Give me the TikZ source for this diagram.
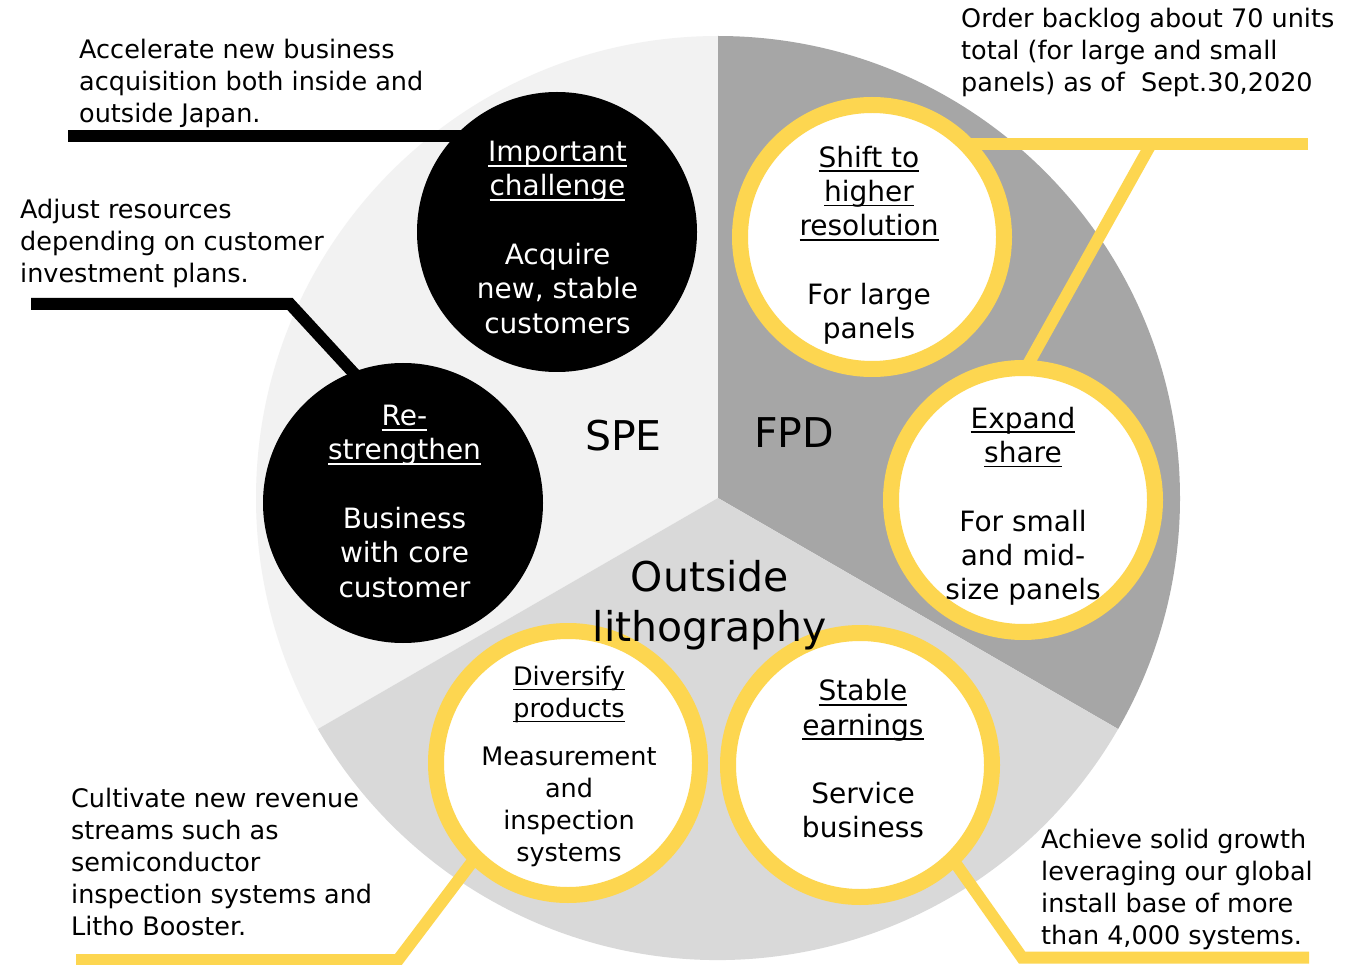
\documentclass[tikz,border=0pt]{standalone}
\usepackage{fontspec}
\setmainfont{DejaVu Sans}
\definecolor{ylw}{RGB}{253,214,80}
\definecolor{speC}{HTML}{F2F2F2}
\definecolor{fpdC}{HTML}{A6A6A6}
\definecolor{outC}{HTML}{D9D9D9}
\pgfdeclarelayer{bg}
\pgfsetlayers{bg,main}
\newcommand\myul[1]{\setbox0\hbox{#1}\rlap{\vrule height -3.2pt depth 5pt width \wd0}\box0}
\begin{document}
\begin{tikzpicture}[x=1pt,y=-1pt,
  blackc/.style={circle, fill=black, minimum size=280pt, inner sep=0pt},
  ringc/.style={circle, fill=white, draw=ylw, line width=16pt, minimum size=264pt, inner sep=0pt},
  ctext/.style={align=center, inner sep=0pt, font=\fontsize{28}{34.3}\selectfont},
  wtext/.style={ctext, text=white},
  note/.style={align=left, anchor=north west, inner sep=0pt, font=\fontsize{25.5}{32}\selectfont},
  big/.style={inner sep=0pt, font=\fontsize{41}{50}\selectfont},
  blk/.style={line width=12pt, draw=black},
  ylink/.style={line width=12pt, draw=ylw}]
\useasboundingbox (0,0) rectangle (1347,965);

% circles
\node[blackc] (imp) at (557,232) {};
\node[blackc] (rs) at (403,503) {};
\node[ringc] (shf) at (872,237) {};
\node[ringc] (exp) at (1023,500) {};
\node[ringc] (div) at (568,763) {};
\node[ringc] (stb) at (860,765) {};

% circle texts
\node[wtext] (impT) at (557.5,237.3) {\myul{Important}\\\myul{challenge}\\[34.3pt]Acquire\\new, stable\\customers};
\node[wtext] (rsT) at (404.5,501.3) {\myul{Re-}\\\myul{strengthen}\\[34.3pt]Business\\with core\\customer};
\node[ctext] (shfT) at (869,245.2) {\myul{Shift to}\\\myul{higher}\\\myul{resolution}\\[34.3pt]For large\\panels};
\node[ctext] (expT) at (1023,506.2) {\myul{Expand}\\\myul{share}\\[34.3pt]For small\\and mid-\\size panels};
\node[ctext, font=\fontsize{25.5}{32}\selectfont] (divT) at (569,766.3) {\myul{Diversify}\\\myul{products}\\[16pt]Measurement\\and\\inspection\\systems};
\node[ctext] (stbT) at (863,758.9) {\myul{Stable}\\\myul{earnings}\\[34.3pt]Service\\business};

% sector labels
\node[big, anchor=base] (spe) at (623.5,450) {SPE};
\node[big, anchor=base] (fpd) at (794,448) {FPD};
\node[big, align=center] (out) at (710,605.2) {Outside\\lithography};

% annotations
\node[note] (n1) at (79,38.6) {Accelerate new business\\acquisition both inside and\\outside Japan.};
\node[note] (n2) at (20,198.6) {Adjust resources\\depending on customer\\investment plans.};
\node[note] (n3) at (961,7.6) {Order backlog about 70 units\\total (for large and small\\panels) as of~ Sept.30,2020};
\node[note] (n4) at (71,787.6) {Cultivate new revenue\\streams such as\\semiconductor\\inspection systems and\\Litho Booster.};
\node[note] (n5) at (1041,828.6) {Achieve solid growth\\leveraging our global\\install base of more\\than 4,000 systems.};

% connector free ends
\coordinate (a1) at (68,136);
\coordinate (b1) at (31,304);
\coordinate (b2) at (290,304);
\coordinate (y1) at (1308,144);
\coordinate (y2) at (1151,144);
\coordinate (c1) at (76,960);
\coordinate (c2) at (398,960);
\coordinate (d1) at (1022,957.5);
\coordinate (d2) at (1309,957.5);
\coordinate (O) at (718,498);

\begin{pgfonlayer}{bg}
\fill[white] (0,0) rectangle (1347,965);
\fill[speC] (O) -- ++(270:462) arc[start angle=270,end angle=150,radius=462] -- cycle;
\fill[fpdC] (O) -- ++(270:462) arc[start angle=270,end angle=390,radius=462] -- cycle;
\fill[outC] (O) -- ++(30:462) arc[start angle=30,end angle=150,radius=462] -- cycle;
\draw[blk] (a1) -- (a1 -| imp.center);
\draw[blk, shorten >=-12pt] (b1) -- (b2) -- (rs.111);
\draw[ylink] (y1) -- (y1 -| shf.center);
\draw[ylink, shorten >=-12pt] (y2) -- (exp.87.5);
\draw[ylink, shorten >=-12pt] (c1) -- (c2) -- (div.226);
\draw[ylink, shorten <=-12pt] (stb.314) -- (d1) -- (d2);
\end{pgfonlayer}
\end{tikzpicture}
\end{document}
